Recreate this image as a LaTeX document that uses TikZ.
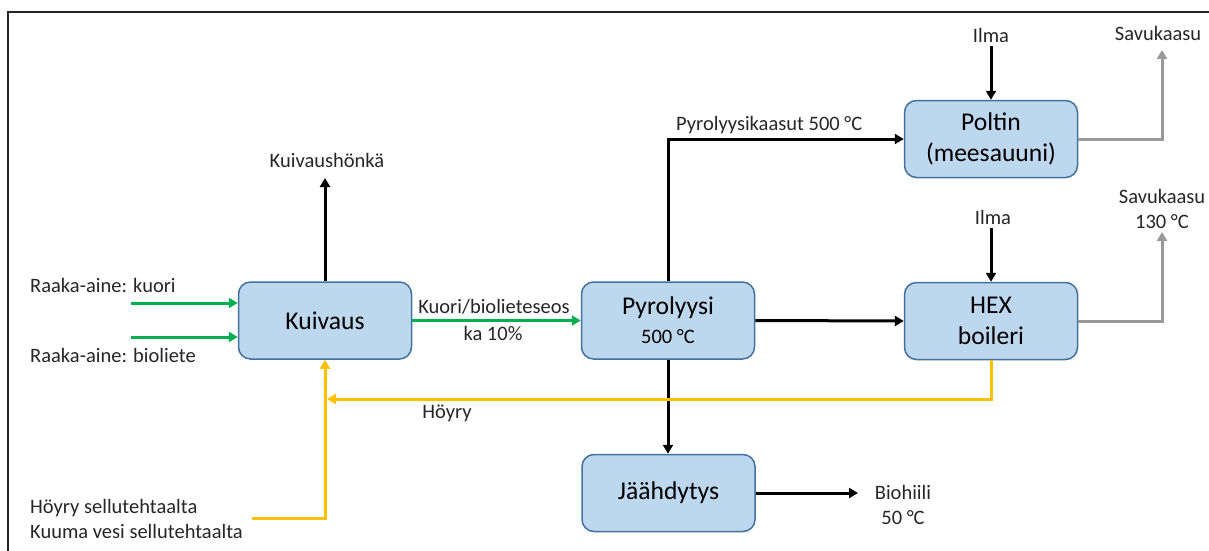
\documentclass[tikz,border=0pt]{standalone}
\usepackage{fontspec}
\setmainfont{Carlito}
\usetikzlibrary{arrows.meta}

\definecolor{boxfill}{HTML}{BDD7EE}
\definecolor{boxline}{HTML}{41719C}
\definecolor{feed}{HTML}{00B050}
\definecolor{steam}{HTML}{FFC000}
\definecolor{flue}{HTML}{999999}
\definecolor{labeltext}{HTML}{262626}

\begin{document}
\begin{tikzpicture}[x=1pt,y=-1pt,
  unitbox/.style={draw=boxline, fill=boxfill, line width=1.5pt, rounded corners=12pt,
    minimum width=173pt, minimum height=77pt, align=center, inner sep=2pt,
    font=\fontsize{25.6}{31}\selectfont},
  lbl/.style={inner sep=0pt, align=center, text=labeltext,
    font=\fontsize{20.5}{25}\selectfont},
  tip/.style={-{Triangle[length=9pt,width=10pt]}},
  flow/.style={tip, line width=3pt, black},
  feedflow/.style={tip, line width=3pt, feed},
  steamflow/.style={tip, line width=3pt, steam},
  flueflow/.style={tip, line width=3pt, flue},
]
\useasboundingbox (0,0) rectangle (1209,551);

% frame
\draw[line width=2.5pt, black!85] (8,551) -- (8,12) -- (1209,12);

% process units
\node[unitbox] (kuiv) at (325,320.5) {Kuivaus};
\node[unitbox] (pyro) at (668,320.5) {Pyrolyysi\\[-2pt]{\fontsize{20.5}{25}\selectfont 500 °C}};
\node[unitbox] (polt) at (991,139) {Poltin\\(meesauuni)};
\node[unitbox] (hex) at (991,321) {HEX\\boileri};
\node[unitbox] (jaah) at (668.5,493) {Jäähdytys};

% raw material feeds
\node[lbl, anchor=west] (kuori) at (30,285) {Raaka-aine: kuori};
\node[lbl, anchor=west] (biol) at (30,355) {Raaka-aine: bioliete};
\coordinate (kuoriin) at (131,303);
\coordinate (biolin) at (131,337);
\draw[feedflow] (kuoriin) -- (kuoriin -| kuiv.west);
\draw[feedflow] (biolin) -- (biolin -| kuiv.west);

% dryer exhaust
\node[lbl] (honka) at (327,160) {Kuivaushönkä};
\coordinate (honkaend) at (325,178);
\draw[flow] (kuiv.north) -- (honkaend);

% dried mixture to pyrolysis
\draw[feedflow] (kuiv.east) -- (pyro.west);
\node[lbl] (seos) at (494,307) {Kuori/biolieteseos};
\node[lbl] (ka) at (493,333) {ka 10\%};

% pyrolysis gases to burner
\draw[flow] (pyro.north) |- (polt.west);
\node[lbl, anchor=west] (kaasut) at (676,125) {Pyrolyysikaasut 500 °C};

% pyrolysis to boiler and cooling
\draw[flow] (pyro.east) -- (hex.west);
\draw[flow] (pyro.south) -- (pyro.south |- jaah.north);

% biochar product
\coordinate (hiiliend) at (858,493);
\draw[flow] (jaah.east) -- (hiiliend);
\node[lbl] (hiili) at (903,505) {Biohiili\\50 °C};

% combustion air
\node[lbl] (ilma1) at (991,35) {Ilma};
\node[lbl] (ilma2) at (993,217) {Ilma};
\draw[flow, shorten <=4pt] (ilma1.south) -- (polt.north);
\draw[flow, shorten <=4pt] (ilma2.south -| hex.north) -- (hex.north);

% flue gases
\node[lbl] (savu1) at (1158,33) {Savukaasu};
\node[lbl] (savu2) at (1162,209) {Savukaasu\\130 °C};
\coordinate (savu1end) at (1162,50);
\coordinate (savu2end) at (1162,232);
\draw[flueflow] (polt.east) -| (savu1end);
\draw[flueflow] (hex.east) -| (savu2end);

% steam return to dryer
\coordinate (hoyryend) at (327,399);
\draw[steamflow] (hex.south) |- (hoyryend);
\node[lbl] (hoyry) at (447,413) {Höyry};

% steam / hot water from pulp mill
\node[lbl, anchor=west, align=left] (sellu) at (30,519) {Höyry sellutehtaalta\\Kuuma vesi sellutehtaalta};
\coordinate (sellustart) at (252,518);
\draw[steamflow] (sellustart) -| (kuiv.south);
\end{tikzpicture}
\end{document}
